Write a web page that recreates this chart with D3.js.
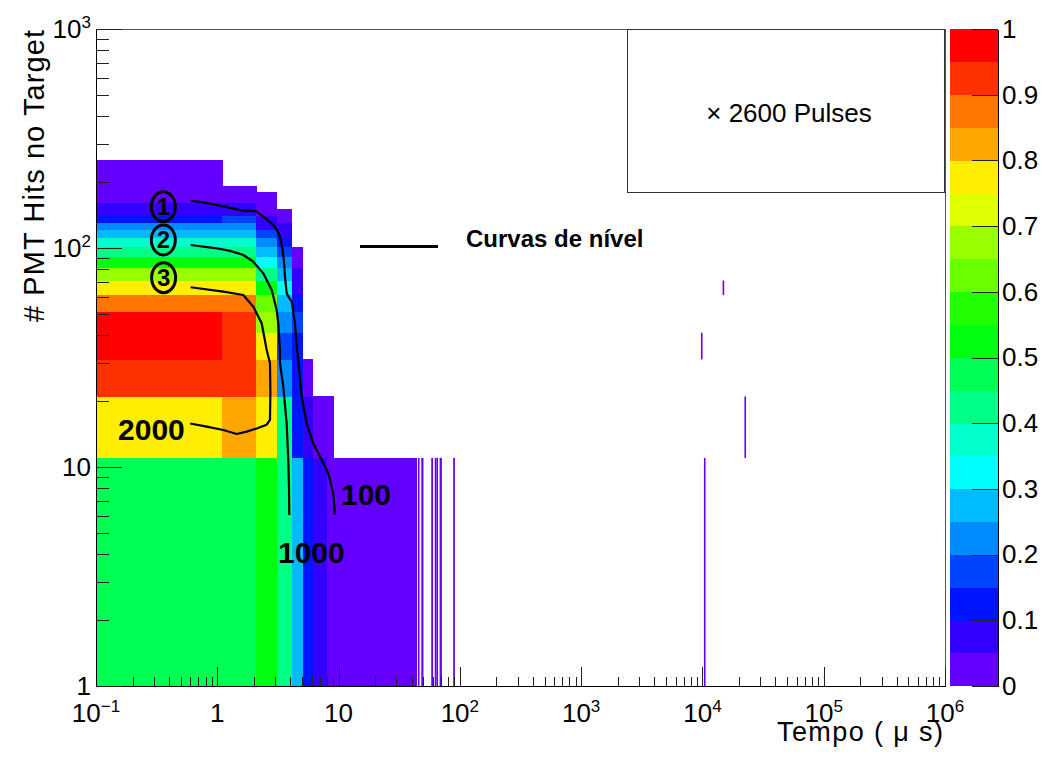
<!DOCTYPE html>
<html>
<head>
<meta charset="utf-8">
<script src="https://cdn.jsdelivr.net/npm/d3@7"></script>
<style>
  body { margin: 0; background: #fff; }
  svg { display: block; }
  text { font-family: "Liberation Sans", Arial, Helvetica, sans-serif; fill: #000; }
</style>
</head>
<body>
<svg id="chart" width="1046" height="758"></svg>
<script>
// ---- histogram binning: time bins 1 µs wide (from 0.1 µs), hit bins 10 wide (from 1)
const timeBinWidth = 1;
const hitsBinWidth = 10;
const hitsFirstLow = 1;

// lower edges of the densely filled time columns
const blockTimeLow = [0.1, 1.1, 2.1, 3.1, 4.1, 5.1, 6.1, 7.1, 8.1];

// normalised content per column, from the 1-11 hits bin upwards
const blockLevels = [
  [0.47, 0.77, 0.92, 0.98, 1.00, 0.87, 0.77, 0.67, 0.52, 0.42, 0.37, 0.27, 0.22, 0.12, 0.07, 0.07,
   0.02, 0.02, 0.02, 0.02, 0.02, 0.02, 0.02, 0.02, 0.02],
  [0.47, 0.82, 0.92, 0.93, 0.93, 0.87, 0.77, 0.67, 0.52, 0.42, 0.37, 0.27, 0.22, 0.17, 0.07, 0.07,
   0.02, 0.02, 0.02],
  [0.52, 0.77, 0.82, 0.77, 0.67, 0.62, 0.52, 0.42, 0.32, 0.27, 0.22, 0.17, 0.07, 0.07, 0.02, 0.02,
   0.02, 0.02],
  [0.42, 0.42, 0.22, 0.17, 0.22, 0.27, 0.32, 0.27, 0.22, 0.17, 0.12, 0.07, 0.07, 0.02, 0.02],
  [0.27, 0.12, 0.12, 0.12, 0.17, 0.12, 0.07, 0.07, 0.02, 0.02],
  [0.12, 0.07, 0.02],
  [0.07, 0.02],
  [0.07, 0.02],
  [0.02, 0.02]
];

// runs of equal, low content: [timeLow, timeHigh, hitsLow, hitsHigh, level]
const runCells = [
  [9.1, 44.1, 1, 11, 0.02]
];

// isolated late entries: [timeLow, timeHigh, hitsLow, hitsHigh, level]
const sparseCells = [
  [45.1, 46.1, 1, 11, 0.02],
  [48.1, 50.1, 1, 11, 0.02],
  [58.1, 60.1, 1, 11, 0.02],
  [62.1, 63.1, 1, 11, 0.02],
  [64.1, 66.1, 1, 11, 0.02],
  [68.1, 71.1, 1, 11, 0.02],
  [88.1, 91.1, 1, 11, 0.02],
  [9720, 9721, 31, 41, 0.02],
  [10290, 10291, 1, 11, 0.02],
  [14670, 14671, 61, 71, 0.02],
  [22200, 22201, 11, 21, 0.02]
];

// level curves [time µs, hits]
const contour100 = [
  [0.603, 164.4], [0.77, 161.5], [0.989, 157.1], [1.28, 152.4], [1.639, 148.0], [2.03, 147.4],
  [2.112, 146.5], [2.394, 139.0], [2.895, 127.4], [3.15, 119.0], [3.287, 112.6], [3.461, 97.9],
  [3.56, 84.5], [3.615, 73.9], [3.734, 62.1], [3.92, 59.2], [4.106, 56.9], [4.25, 50.1], [4.370, 45.3],
  [4.55, 34.2], [4.653, 30.8], [4.964, 20.9], [5.458, 15.8], [6.185, 12.8], [7.255, 10.8],
  [8.224, 9.36], [9.045, 7.59], [9.34, 6.04]
];
const contour1000 = [
  [0.603, 103.2], [0.989, 99.7], [1.30, 96.8], [1.639, 92.9], [1.981, 86.6], [2.394, 76.6], [2.809, 64.3],
  [3.088, 52.1], [3.183, 45.3], [3.287, 34.2], [3.287, 29.8], [3.501, 23.3], [3.62, 19.0], [3.734, 15.8],
  [3.848, 10.8], [3.90, 8.2], [3.922, 6.04]
];
const contour2000 = [
  [0.603, 66.2], [1.121, 63.2], [1.639, 61.0], [1.981, 53.9], [2.323, 45.3], [2.555, 34.2],
  [2.720, 29.8], [2.74, 22.0], [2.720, 16.4], [2.555, 15.6], [2.112, 15.0], [1.748, 14.5], [1.445, 14.15],
  [1.121, 14.75], [0.818, 15.28], [0.597, 15.8]
];

// curve labels: [text, time, hits, anchor]
const contourLabels = [
  ["100", 10.47, 6.71, "start"],
  ["1000", 3.165, 3.64, "start"],
  ["2000", 0.152, 13.28, "start"]
];
// circled curve numbers: [text, time, hits]
const curveMarkers = [
  ["1", 0.359, 154.4],
  ["2", 0.359, 108.8],
  ["3", 0.361, 73.2]
];

const zTicks = [0, 0.1, 0.2, 0.3, 0.4, 0.5, 0.6, 0.7, 0.8, 0.9, 1];
const paletteColors = [
  "#6300ff", "#3300ff", "#0014ff", "#0044ff", "#008bff", "#00bbff", "#00fffc", "#00ffcc",
  "#00ff85", "#00ff55", "#00ff0e", "#22ff00", "#69ff00", "#99ff00", "#e0ff00", "#ffee00",
  "#ffa700", "#ff7700", "#ff3000", "#ff0000"
];

// ---- layout
const frame = { left: 96, right: 945, top: 29, bottom: 686 };
const bar = { left: 950, right: 998 };
const svg = d3.select("#chart");

const x = d3.scaleLog().domain([0.1, 1e6]).range([frame.left, frame.right]);
const y = d3.scaleLog().domain([1, 1e3]).range([frame.bottom, frame.top]);
const z = d3.scaleLinear().domain([0, 1]).range([frame.bottom, frame.top]);
const colorOf = v => paletteColors[Math.min(paletteColors.length - 1, Math.floor(v * paletteColors.length))];

// ---- cells
const blockCells = [];
blockTimeLow.forEach((t0, i) => {
  blockLevels[i].forEach((v, j) => {
    const h0 = hitsFirstLow + j * hitsBinWidth;
    blockCells.push({ t0, t1: t0 + timeBinWidth, h0, h1: h0 + hitsBinWidth, v });
  });
});
runCells.forEach(([t0, t1, h0, h1, v]) => blockCells.push({ t0, t1, h0, h1, v }));

svg.append("g").attr("shape-rendering", "crispEdges")
  .selectAll("rect").data(blockCells).join("rect")
  .attr("x", d => x(d.t0))
  .attr("y", d => y(d.h1))
  .attr("width", d => x(d.t1) - x(d.t0) + 0.3)
  .attr("height", d => y(d.h0) - y(d.h1) + 0.3)
  .attr("fill", d => colorOf(d.v));

svg.append("g")
  .selectAll("rect").data(sparseCells.map(([t0, t1, h0, h1, v]) => ({ t0, t1, h0, h1, v }))).join("rect")
  .attr("x", d => x(d.t0))
  .attr("y", d => y(d.h1))
  .attr("width", d => Math.max(x(d.t1) - x(d.t0), 1.6))
  .attr("height", d => y(d.h0) - y(d.h1))
  .attr("fill", d => colorOf(d.v));

// ---- frame
svg.append("g").attr("shape-rendering", "crispEdges").attr("fill", "none")
  .call(g => {
    g.append("line").attr("x1", frame.left).attr("x2", frame.right).attr("y1", frame.top).attr("y2", frame.top).attr("stroke", "#555");
    g.append("line").attr("x1", frame.right).attr("x2", frame.right).attr("y1", frame.top).attr("y2", frame.bottom).attr("stroke", "#555");
  });

const isDecade = d => Math.abs(Math.log10(d) - Math.round(Math.log10(d))) < 1e-9;

// x axis ticks (pointing into the frame)
svg.append("g").attr("transform", `translate(0,${frame.bottom})`).attr("shape-rendering", "crispEdges")
  .call(d3.axisBottom(x).tickValues(x.ticks()).tickSize(-9.3).tickSizeOuter(0).tickFormat(""))
  .call(g => g.select(".domain").attr("stroke", "#000"))
  .call(g => g.selectAll(".tick line").attr("stroke", "#222").filter(isDecade).attr("y2", -18.7));

// y axis ticks
svg.append("g").attr("transform", `translate(${frame.left},0)`).attr("shape-rendering", "crispEdges")
  .call(d3.axisLeft(y).tickValues(y.ticks()).tickSize(-13.3).tickSizeOuter(0).tickFormat(""))
  .call(g => g.select(".domain").attr("stroke", "#000"))
  .call(g => g.selectAll(".tick line").attr("stroke", "#222").filter(isDecade).attr("x2", 25.7));

function powerLabel(sel, value) {
  const e = Math.round(Math.log10(value));
  if (e === 0) { sel.text("1"); return; }
  if (e === 1) { sel.text("10"); return; }
  sel.append("tspan").text("10");
  sel.append("tspan").attr("dy", -10).attr("font-size", 17).text(e < 0 ? "\u2212" + (-e) : String(e));
}

// x tick labels
svg.append("g").selectAll("text").data(x.ticks().filter(isDecade)).join("text")
  .attr("x", d => x(d)).attr("y", 722).attr("text-anchor", "middle").attr("font-size", 26)
  .each(function (d) { powerLabel(d3.select(this), d); });

// y tick labels
svg.append("g").selectAll("text").data(y.ticks().filter(isDecade)).join("text")
  .attr("x", 91).attr("y", d => y(d) + 9.3).attr("text-anchor", "end").attr("font-size", 26)
  .each(function (d) { powerLabel(d3.select(this), d); });

// axis titles
svg.append("text").attr("x", 943).attr("y", 741).attr("text-anchor", "end").attr("font-size", 27)
  .attr("textLength", 166).attr("lengthAdjust", "spacing").text("Tempo ( \u03bc s)");
svg.append("text").attr("transform", "translate(44,30) rotate(-90)").attr("text-anchor", "end")
  .attr("font-size", 29).attr("textLength", 292).attr("lengthAdjust", "spacing").text("# PMT Hits no Target");

// ---- colour bar
const bands = d3.range(paletteColors.length);
svg.append("g").attr("shape-rendering", "crispEdges")
  .selectAll("rect").data(bands).join("rect")
  .attr("x", bar.left).attr("width", bar.right - bar.left)
  .attr("y", k => z((k + 1) / paletteColors.length))
  .attr("height", k => z(k / paletteColors.length) - z((k + 1) / paletteColors.length) + 0.3)
  .attr("fill", k => paletteColors[k]);

svg.append("g").attr("transform", `translate(${bar.right},0)`)
  .call(d3.axisRight(z).tickValues(zTicks).tickSize(-26).tickSizeOuter(0).tickPadding(4).tickFormat(d3.format("~g")))
  .call(g => g.select(".domain").attr("stroke", "#000").attr("shape-rendering", "crispEdges"))
  .call(g => g.selectAll(".tick line").attr("stroke", "#222").attr("shape-rendering", "crispEdges"))
  .call(g => g.selectAll(".tick text").attr("font-size", 26).attr("font-family", "Liberation Sans, Arial, sans-serif").attr("fill", "#000"));

// ---- level curves
const line = d3.line().x(d => x(d[0])).y(d => y(d[1]));
svg.append("g").attr("fill", "none").attr("stroke", "#000").attr("stroke-width", 2.2).attr("stroke-linejoin", "round")
  .selectAll("path").data([contour100, contour1000, contour2000]).join("path")
  .attr("d", line);

svg.append("g").selectAll("text").data(contourLabels).join("text")
  .attr("x", d => x(d[1])).attr("y", d => y(d[2])).attr("text-anchor", d => d[3])
  .attr("font-size", 30).attr("font-weight", "bold").text(d => d[0]);

const markers = svg.append("g").selectAll("g").data(curveMarkers).join("g")
  .attr("transform", d => `translate(${x(d[1])},${y(d[2])})`);
markers.append("ellipse").attr("rx", 12).attr("ry", 15).attr("fill", "none").attr("stroke", "#000").attr("stroke-width", 3);
markers.append("text").attr("text-anchor", "middle").attr("y", 8.5).attr("font-size", 24).attr("font-weight", "bold").text(d => d[0]);

// legend for the curves
svg.append("line").attr("x1", 360).attr("x2", 438).attr("y1", 246.5).attr("y2", 246.5).attr("stroke", "#000").attr("stroke-width", 3);
svg.append("text").attr("x", 466).attr("y", 247).attr("font-size", 24).attr("font-weight", "bold").text("Curvas de n\u00edvel");

// ---- pulses box
svg.append("rect").attr("x", 627.5).attr("y", 29.5).attr("width", 317).attr("height", 163)
  .attr("fill", "#fff").attr("stroke", "#333").attr("shape-rendering", "crispEdges");
svg.append("text").attr("x", 789).attr("y", 121.5).attr("text-anchor", "middle").attr("font-size", 26)
  .text("\u00d7 2600 Pulses");
</script>
</body>
</html>
